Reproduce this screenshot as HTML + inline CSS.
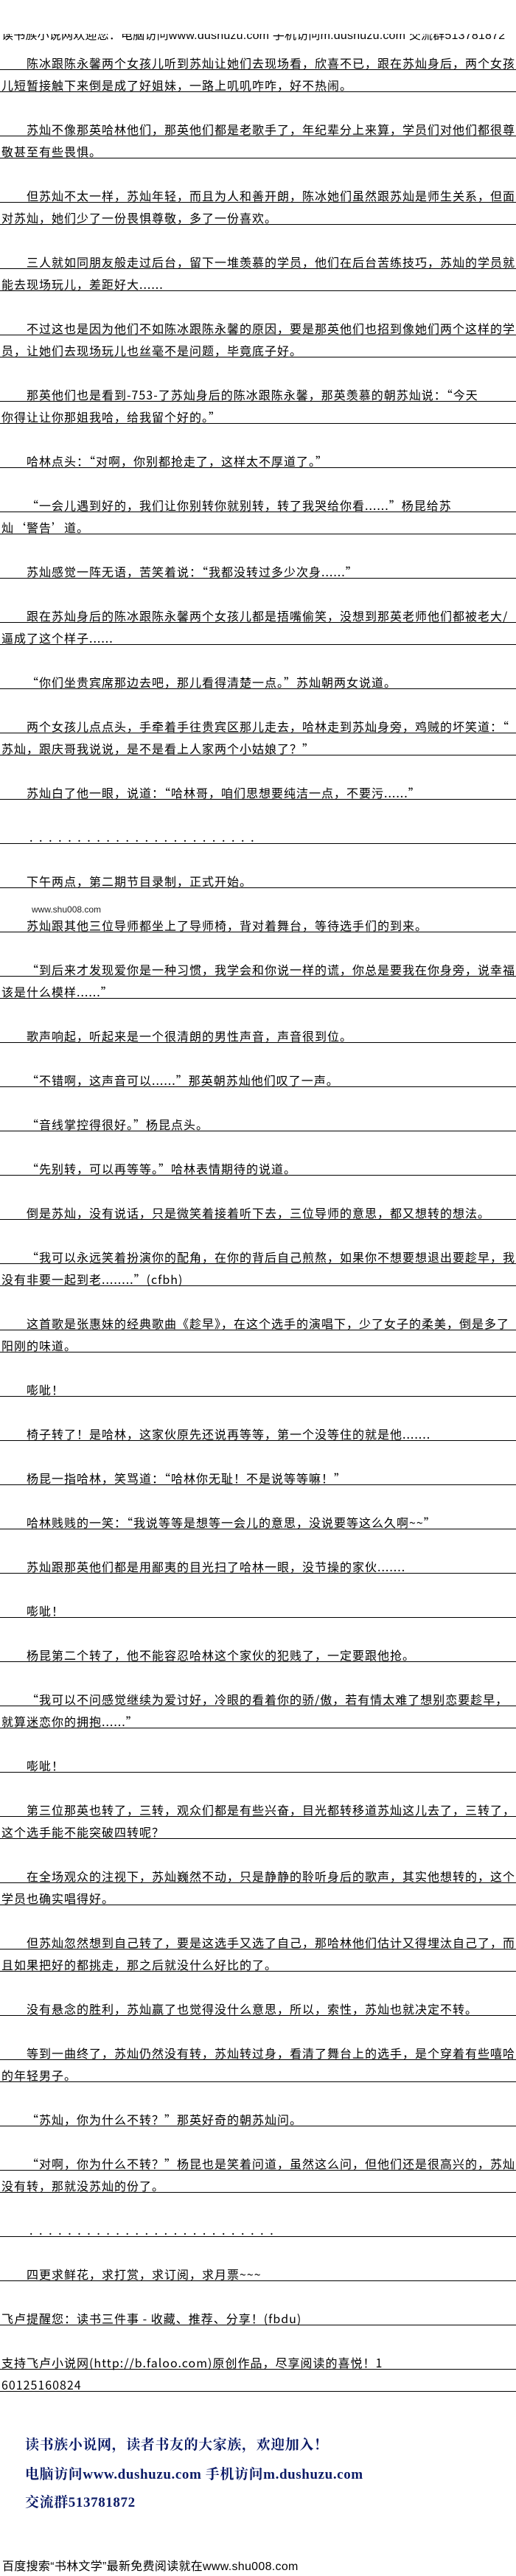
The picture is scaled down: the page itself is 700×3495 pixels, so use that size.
<!DOCTYPE html>
<html lang="zh-CN"><head><meta charset="utf-8">
<style>
html,body{margin:0;padding:0;background:#fff;}
body{width:700px;height:3495px;position:relative;overflow:hidden;font-family:"Liberation Sans","Noto Sans CJK SC",sans-serif;color:#000;}
.L{position:absolute;left:0;width:700px;height:29px;border-bottom:1px solid #000;font-family:"Noto Sans CJK SC","Liberation Sans",sans-serif;font-size:16px;line-height:16px;letter-spacing:1px;white-space:nowrap;box-sizing:content-box;}
.L span{position:absolute;left:2px;top:12px;}
.i span{left:36px;}
.dots{letter-spacing:8.6px;}
.nav{position:absolute;left:34px;font-family:"Liberation Serif","Noto Serif CJK SC",serif;font-weight:bold;color:#0a1a66;font-size:19px;letter-spacing:0.6px;white-space:nowrap;}
</style></head><body>
<div style="position:absolute;left:0;top:46px;width:700px;height:13px;overflow:hidden;"><div style="position:absolute;left:2px;top:-5px;font-size:16px;line-height:16px;white-space:nowrap;letter-spacing:0.2px;">读书族小说网欢迎您：电脑访问www.dushuzu.com 手机访问m.dushuzu.com 交流群513781872</div></div>

<div class="L i" style="top:65px"><span>陈冰跟陈永馨两个女孩儿听到苏灿让她们去现场看，欣喜不已，跟在苏灿身后，两个女孩</span></div>
<div class="L" style="top:95px"><span>儿短暂接触下来倒是成了好姐妹，一路上叽叽咋咋，好不热闹。</span></div>
<div class="L i" style="top:155px"><span>苏灿不像那英哈林他们，那英他们都是老歌手了，年纪辈分上来算，学员们对他们都很尊</span></div>
<div class="L" style="top:185px"><span>敬甚至有些畏惧。</span></div>
<div class="L i" style="top:245px"><span>但苏灿不太一样，苏灿年轻，而且为人和善开朗，陈冰她们虽然跟苏灿是师生关系，但面</span></div>
<div class="L" style="top:275px"><span>对苏灿，她们少了一份畏惧尊敬，多了一份喜欢。</span></div>
<div class="L i" style="top:335px"><span>三人就如同朋友般走过后台，留下一堆羡慕的学员，他们在后台苦练技巧，苏灿的学员就</span></div>
<div class="L" style="top:365px"><span>能去现场玩儿，差距好大......</span></div>
<div class="L i" style="top:425px"><span>不过这也是因为他们不如陈冰跟陈永馨的原因，要是那英他们也招到像她们两个这样的学</span></div>
<div class="L" style="top:455px"><span>员，让她们去现场玩儿也丝毫不是问题，毕竟底子好。</span></div>
<div class="L i" style="top:515px"><span>那英他们也是看到-753-了苏灿身后的陈冰跟陈永馨，那英羡慕的朝苏灿说：“今天</span></div>
<div class="L" style="top:545px"><span>你得让让你那姐我哈，给我留个好的。”</span></div>
<div class="L i" style="top:605px"><span>哈林点头：“对啊，你别都抢走了，这样太不厚道了。”</span></div>
<div class="L i" style="top:665px"><span>“一会儿遇到好的，我们让你别转你就别转，转了我哭给你看......”杨昆给苏</span></div>
<div class="L" style="top:695px"><span>灿‘警告’道。</span></div>
<div class="L i" style="top:755px"><span>苏灿感觉一阵无语，苦笑着说：“我都没转过多少次身......”</span></div>
<div class="L i" style="top:815px"><span>跟在苏灿身后的陈冰跟陈永馨两个女孩儿都是捂嘴偷笑，没想到那英老师他们都被老大/</span></div>
<div class="L" style="top:845px"><span>逼成了这个样子......</span></div>
<div class="L i" style="top:905px"><span>“你们坐贵宾席那边去吧，那儿看得清楚一点。”苏灿朝两女说道。</span></div>
<div class="L i" style="top:965px"><span>两个女孩儿点点头，手牵着手往贵宾区那儿走去，哈林走到苏灿身旁，鸡贼的坏笑道：“</span></div>
<div class="L" style="top:995px"><span>苏灿，跟庆哥我说说，是不是看上人家两个小姑娘了？”</span></div>
<div class="L i" style="top:1055px"><span>苏灿白了他一眼，说道：“哈林哥，咱们思想要纯洁一点，不要污......”</span></div>
<div class="L i" style="top:1115px"><span class="dots" style="left:40px">........................</span></div>
<div class="L i" style="top:1175px"><span>下午两点，第二期节目录制，正式开始。</span></div>
<div style="position:absolute;left:43px;top:1228px;font-size:12px;line-height:12px;white-space:nowrap;color:#222;">www.shu008.com</div>
<div class="L i" style="top:1235px"><span>苏灿跟其他三位导师都坐上了导师椅，背对着舞台，等待选手们的到来。</span></div>
<div class="L i" style="top:1295px"><span>“到后来才发现爱你是一种习惯，我学会和你说一样的谎，你总是要我在你身旁，说幸福</span></div>
<div class="L" style="top:1325px"><span>该是什么模样......”</span></div>
<div class="L i" style="top:1385px"><span>歌声响起，听起来是一个很清朗的男性声音，声音很到位。</span></div>
<div class="L i" style="top:1445px"><span>“不错啊，这声音可以......”那英朝苏灿他们叹了一声。</span></div>
<div class="L i" style="top:1505px"><span>“音线掌控得很好。”杨昆点头。</span></div>
<div class="L i" style="top:1565px"><span>“先别转，可以再等等。”哈林表情期待的说道。</span></div>
<div class="L i" style="top:1625px"><span>倒是苏灿，没有说话，只是微笑着接着听下去，三位导师的意思，都又想转的想法。</span></div>
<div class="L i" style="top:1685px"><span>“我可以永远笑着扮演你的配角，在你的背后自己煎熬，如果你不想要想退出要趁早，我</span></div>
<div class="L" style="top:1715px"><span>没有非要一起到老........”(cfbh)</span></div>
<div class="L i" style="top:1775px"><span>这首歌是张惠妹的经典歌曲《趁早》，在这个选手的演唱下，少了女子的柔美，倒是多了</span></div>
<div class="L" style="top:1805px"><span>阳刚的味道。</span></div>
<div class="L i" style="top:1865px"><span>嘭呲！</span></div>
<div class="L i" style="top:1925px"><span>椅子转了！是哈林，这家伙原先还说再等等，第一个没等住的就是他.......</span></div>
<div class="L i" style="top:1985px"><span>杨昆一指哈林，笑骂道：“哈林你无耻！不是说等等嘛！”</span></div>
<div class="L i" style="top:2045px"><span>哈林贱贱的一笑：“我说等等是想等一会儿的意思，没说要等这么久啊~~”</span></div>
<div class="L i" style="top:2105px"><span>苏灿跟那英他们都是用鄙夷的目光扫了哈林一眼，没节操的家伙.......</span></div>
<div class="L i" style="top:2165px"><span>嘭呲！</span></div>
<div class="L i" style="top:2225px"><span>杨昆第二个转了，他不能容忍哈林这个家伙的犯贱了，一定要跟他抢。</span></div>
<div class="L i" style="top:2285px"><span>“我可以不问感觉继续为爱讨好，冷眼的看着你的骄/傲，若有情太难了想别恋要趁早，</span></div>
<div class="L" style="top:2315px"><span>就算迷恋你的拥抱......”</span></div>
<div class="L i" style="top:2375px"><span>嘭呲！</span></div>
<div class="L i" style="top:2435px"><span>第三位那英也转了，三转，观众们都是有些兴奋，目光都转移道苏灿这儿去了，三转了，</span></div>
<div class="L" style="top:2465px"><span>这个选手能不能突破四转呢？</span></div>
<div class="L i" style="top:2525px"><span>在全场观众的注视下，苏灿巍然不动，只是静静的聆听身后的歌声，其实他想转的，这个</span></div>
<div class="L" style="top:2555px"><span>学员也确实唱得好。</span></div>
<div class="L i" style="top:2615px"><span>但苏灿忽然想到自己转了，要是这选手又选了自己，那哈林他们估计又得埋汰自己了，而</span></div>
<div class="L" style="top:2645px"><span>且如果把好的都挑走，那之后就没什么好比的了。</span></div>
<div class="L i" style="top:2705px"><span>没有悬念的胜利，苏灿赢了也觉得没什么意思，所以，索性，苏灿也就决定不转。</span></div>
<div class="L i" style="top:2765px"><span>等到一曲终了，苏灿仍然没有转，苏灿转过身，看清了舞台上的选手，是个穿着有些嘻哈</span></div>
<div class="L" style="top:2795px"><span>的年轻男子。</span></div>
<div class="L i" style="top:2855px"><span>“苏灿，你为什么不转？”那英好奇的朝苏灿问。</span></div>
<div class="L i" style="top:2915px"><span>“对啊，你为什么不转？”杨昆也是笑着问道，虽然这么问，但他们还是很高兴的，苏灿</span></div>
<div class="L" style="top:2945px"><span>没有转，那就没苏灿的份了。</span></div>
<div class="L i" style="top:3005px"><span class="dots" style="left:40px">..........................</span></div>
<div class="L i" style="top:3065px"><span>四更求鲜花，求打赏，求订阅，求月票~~~</span></div>
<div class="L" style="top:3125px"><span>飞卢提醒您：读书三件事 - 收藏、推荐、分享！(fbdu)</span></div>
<div class="L" style="top:3185px"><span>支持飞卢小说网(http://b.faloo.com)原创作品，尽享阅读的喜悦！1</span></div>
<div class="L" style="top:3215px"><span>60125160824</span></div>

<div class="nav" style="top:3302px">读书族小说网，读者书友的大家族，欢迎加入！</div>
<div class="nav" style="top:3342px">电脑访问www.dushuzu.com 手机访问m.dushuzu.com</div>
<div class="nav" style="top:3380px">交流群513781872</div>

<div style="position:absolute;left:3px;top:3474px;font-size:16px;line-height:18px;white-space:nowrap;letter-spacing:0.3px;">百度搜索“书林文学”最新免费阅读就在www.shu008.com</div>
</body></html>
